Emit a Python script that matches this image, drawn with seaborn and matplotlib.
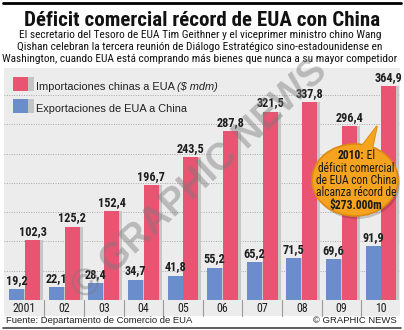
import numpy as np
import pandas as pd
import matplotlib
matplotlib.use("Agg")
import matplotlib.pyplot as plt
import matplotlib.transforms as mtrans
from matplotlib import font_manager as fm
from matplotlib.patches import Rectangle, Ellipse, Polygon
import seaborn as sns

# ---------------- data ----------------
years = ["2001", "02", "03", "04", "05", "06", "07", "08", "09", "10"]
imports_cn = [102.3, 125.2, 152.4, 196.7, 243.5, 287.8, 321.5, 337.8, 296.4, 364.9]
exports_us = [19.2, 22.1, 28.4, 34.7, 41.8, 55.2, 65.2, 71.5, 69.6, 91.9]
series_names = ["Exportaciones de EUA a China", "Importaciones chinas a EUA"]

title = "Déficit comercial récord de EUA con China"
subtitle = [
    "El secretario del Tesoro de EUA Tim Geithner y el viceprimer ministro chino Wang",
    "Qishan celebran la tercera reunión de Diálogo Estratégico sino-estadounidense en",
    "Washington, cuando EUA está comprando más bienes que nunca a su mayor competidor",
]
legend_unit = "($ mdm)"
source = "Fuente: Departamento de Comercio de EUA"
credit = "© GRAPHIC NEWS"
bubble_head = ("2010:", " El")
bubble_lines = ["déficit comercial", "de EUA con China", "alcanza récord de"]
bubble_total = "$273.000m"

# ---------------- style ----------------
PINK = "#EA5473"
BLUE = "#6C8DCB"
SHADOW = "#C6C6C6"
PANEL = "#ECECEC"
ORANGE = "#F6A31F"
ORANGE_EDGE = "#DD8A12"
DARK = "#1E1E1E"

sns.set_theme(style="white")


def pick_condensed():
    cands = [("Liberation Sans Narrow", "normal"), ("Roboto Condensed", "normal"),
             ("Open Sans Condensed", "normal"), ("DejaVu Sans", "condensed"),
             ("Noto Sans", "condensed"), ("Roboto", "condensed"),
             ("Open Sans", "condensed")]
    for fam, st in cands:
        try:
            path = fm.findfont(fm.FontProperties(family=fam, stretch=st),
                               fallback_to_default=False)
        except Exception:
            continue
        low = path.lower().replace(" ", "")
        if st == "normal" and fam.split()[0].lower() in low:
            if ("narrow" in fam.lower() and "narrow" in low) or ("condensed" in fam.lower() and "condensed" in low):
                return fam, st
        if st == "condensed" and ("condensed" in low or "cond" in low):
            return fam, st
    return "Liberation Sans", "normal"


NFAM, NSTRETCH = pick_condensed()
NARROW = [NFAM, "DejaVu Sans"]
plt.rcParams["font.family"] = ["Liberation Sans", "DejaVu Sans"]

W, H = 404, 330
fig = plt.figure(figsize=(W / 100, H / 100), dpi=100)
fig.patch.set_facecolor("white")


def fx(px):
    return px / W


def fy(py):
    return 1 - py / H


# panel background
fig.add_artist(Rectangle((fx(4), fy(316)), fx(396), (316 - 68) / H,
                         transform=fig.transFigure, color=PANEL, zorder=-2, lw=0))
# top / bottom rules
fig.add_artist(plt.Line2D([fx(3), fx(401)], [fy(3), fy(3)], transform=fig.transFigure,
                          color="black", lw=2.0, zorder=1))
fig.add_artist(plt.Line2D([fx(3), fx(401)], [fy(327.5), fy(327.5)], transform=fig.transFigure,
                          color="#444444", lw=1.2, zorder=1))

ax = fig.add_axes([fx(4), fy(300), fx(396), (300 - 68) / H])
ax.set_facecolor("none")

df = pd.DataFrame({
    "year": years * 2,
    "value": exports_us + imports_cn,
    "serie": [series_names[0]] * len(years) + [series_names[1]] * len(years),
})

# shadows (same bars, shifted 3 px to the right)
sns.barplot(data=df, x="year", y="value", hue="serie", hue_order=series_names,
            palette=[SHADOW, SHADOW], saturation=1, width=0.8, gap=0.05,
            legend=False, ax=ax, errorbar=None, zorder=1)
off = mtrans.ScaledTranslation(3 / 100, 0, fig.dpi_scale_trans)
for p in ax.patches:
    p.set_transform(ax.transData + off)
    p.set_linewidth(0)
n_shadow = len(ax.containers)

sns.barplot(data=df, x="year", y="value", hue="serie", hue_order=series_names,
            palette=[BLUE, PINK], saturation=1, width=0.8, gap=0.05,
            legend=False, ax=ax, errorbar=None, zorder=2)
main_containers = ax.containers[n_shadow:]
for cont in main_containers:
    for p in cont:
        p.set_linewidth(0)

for cont, vals in zip(main_containers, [exports_us, imports_cn]):
    ax.bar_label(cont, labels=[f"{v:.1f}".replace(".", ",") for v in vals],
                 padding=1.5, fontsize=8.8, fontweight="bold", color=DARK,
                 family=NARROW, fontstretch=NSTRETCH)

ax.set_xlim(-0.52, 9.48)
ax.set_ylim(0, 396)
ax.set_yticks(np.arange(50, 400, 50))
ax.set_yticklabels([])
ax.yaxis.grid(True, linestyle=(0, (1, 1.5)), color="#A8A8A8", lw=0.7)
ax.xaxis.grid(False)
ax.set_axisbelow(True)
ax.tick_params(left=False, bottom=False, length=0, pad=1.2)
ax.set_xlabel("")
ax.set_ylabel("")
for lab in ax.get_xticklabels():
    lab.set_family(NARROW)
    lab.set_fontstretch(NSTRETCH)
    lab.set_fontsize(8.6)
    lab.set_color(DARK)
for s in ax.spines.values():
    s.set_visible(False)

# separators in the year strip
sep_tr = mtrans.blended_transform_factory(ax.transData, ax.transAxes)
for i in range(len(years) - 1):
    ax.plot([i + 0.5, i + 0.5], [0, -16 / 232], transform=sep_tr, color="#9A9A9A",
            lw=0.8, clip_on=False)

# ---------------- texts ----------------
t_title = fig.text(fx(202.5), fy(25.5), title, ha="center", va="baseline",
                   fontsize=15, fontweight="bold", family=NARROW, fontstretch=NSTRETCH,
                   color="#111111")
sub_y = [37.5, 50, 62.5]
t_subs = [fig.text(fx(200), fy(y), s, ha="center", va="baseline", fontsize=8.5,
                   family=NARROW, fontstretch=NSTRETCH, color="#111111")
          for s, y in zip(subtitle, sub_y)]

# legend
for (y0, col) in [(77, PINK), (99, BLUE)]:
    fig.add_artist(Rectangle((fx(28), fy(y0 + 14)), fx(6), 14 / H,
                             transform=fig.transFigure, color="#C4C4C4", lw=0, zorder=2))
    fig.add_artist(Rectangle((fx(13), fy(y0 + 14)), fx(15), 14 / H,
                             transform=fig.transFigure, color=col, lw=0, zorder=3))
t_leg1 = fig.text(fx(36), fy(89.5), series_names[1] + " ", ha="left", va="baseline",
                  fontsize=7.9, color="#222222")
t_leg2 = fig.text(fx(36), fy(111.7), series_names[0], ha="left", va="baseline",
                  fontsize=7.9, color="#222222")

# footer
fig.text(fx(6), fy(323), source, ha="left", va="baseline", fontsize=6.8, color="#222222")
fig.text(fx(397), fy(323), credit, ha="right", va="baseline", fontsize=6.8, color="#222222")

# bubble
bx, by, bw, bh = 355, 180, 86, 72
fig.add_artist(Ellipse((fx(bx + 2), fy(by + 3)), fx(bw), bh / H, transform=fig.transFigure,
                       color="#000000", alpha=0.18, lw=0, zorder=4.8))
tail = [(fx(361), fy(147)), (fx(377), fy(126)), (fx(372), fy(150))]
fig.add_artist(Polygon(tail, closed=True, transform=fig.transFigure, facecolor=ORANGE,
                       edgecolor=ORANGE_EDGE, lw=1.2, zorder=5.0))
fig.add_artist(Ellipse((fx(bx), fy(by)), fx(bw), bh / H, transform=fig.transFigure,
                       facecolor=ORANGE, edgecolor=ORANGE_EDGE, lw=1.2, zorder=5.1))
fig.add_artist(Polygon(tail, closed=True, transform=fig.transFigure, facecolor=ORANGE,
                       edgecolor="none", lw=0, zorder=5.2))
BFS = 8.4
bcx = 356
t_bh1 = fig.text(fx(bcx), fy(159), bubble_head[0], ha="left", va="baseline", fontsize=BFS,
                 fontweight="bold", family=NARROW, fontstretch=NSTRETCH, color="#1A1A1A", zorder=6)
t_bh2 = fig.text(fx(bcx), fy(159), bubble_head[1], ha="left", va="baseline", fontsize=BFS,
                 family=NARROW, fontstretch=NSTRETCH, color="#1A1A1A", zorder=6)
for i, s in enumerate(bubble_lines):
    fig.text(fx(bcx), fy(159 + (i + 1) * 12.5), s, ha="center", va="baseline", fontsize=BFS,
             family=NARROW, fontstretch=NSTRETCH, color="#1A1A1A", zorder=6)
fig.text(fx(bcx), fy(159 + 4 * 12.5), bubble_total, ha="center", va="baseline", fontsize=BFS,
         fontweight="bold", family=NARROW, fontstretch=NSTRETCH, color="#1A1A1A", zorder=6)

# watermark
fig.text(fx(200), fy(180), credit, ha="center", va="center", rotation=43,
         fontsize=27, fontweight="bold", color="#7A7A7A", alpha=0.45, zorder=7)

# fit widths to reference
fig.canvas.draw()
r = fig.canvas.get_renderer()


def fit(t, target):
    w = t.get_window_extent(r).width
    t.set_fontsize(t.get_fontsize() * target / w)


fit(t_title, 355)
fit(t_subs[2], 392)
for t in t_subs[:2]:
    t.set_fontsize(t_subs[2].get_fontsize())

# centre the mixed bold/regular first bubble line
w1 = t_bh1.get_window_extent(r).width
w2 = t_bh2.get_window_extent(r).width
x0 = bcx - (w1 + w2) / 2
t_bh1.set_x(fx(x0))
t_bh2.set_x(fx(x0 + w1))

fig.canvas.draw()
t_leg_unit = ax.annotate(legend_unit, xy=(1, 0), xycoords=t_leg1, xytext=(0, 0),
                         textcoords="offset points", ha="left", va="bottom",
                         fontsize=7.9, style="italic", color="#222222",
                         annotation_clip=False)

fig.savefig("out.png", dpi=100, facecolor="white")
